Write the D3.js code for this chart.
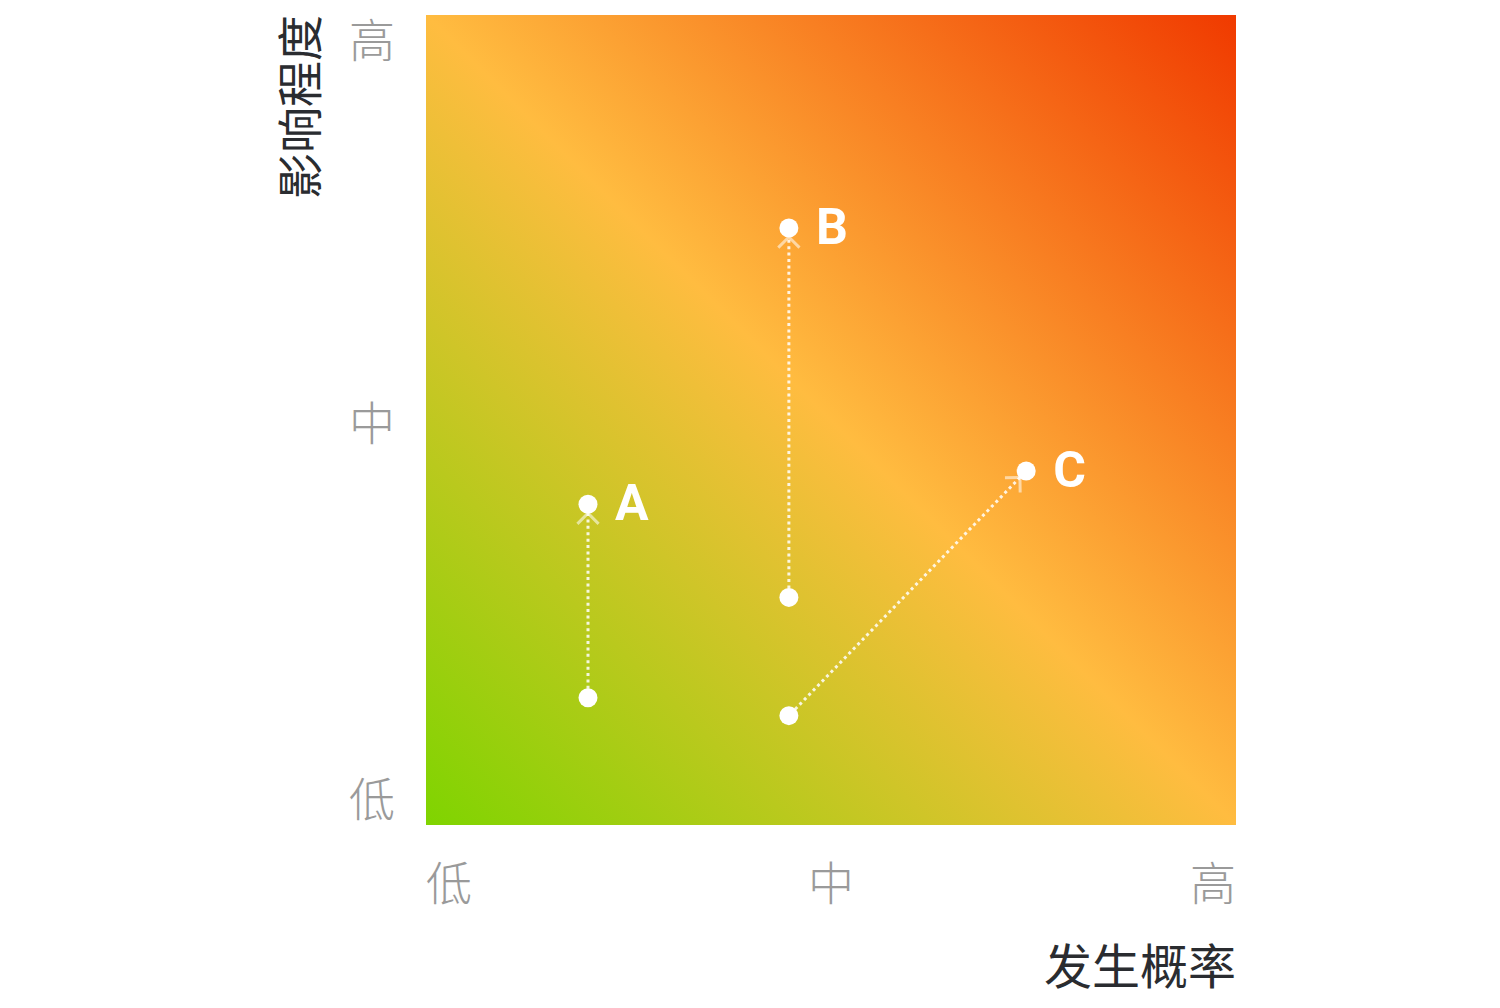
<!DOCTYPE html>
<html><head><meta charset="utf-8">
<script src="https://cdn.jsdelivr.net/npm/d3@7"></script>
<style>body{margin:0;background:#fff}svg{display:block}</style>
</head><body>
<svg id="c" width="1500" height="1008"></svg>
<script>
const tickValues = [0, 50, 100];
const tickLabels = ["低", "中", "高"];
const xTitle = "发生概率";
const yTitle = "影响程度";
const riskNames = ["A", "B", "C"];
const fromX = [20, 44.8, 44.8];
const fromY = [15.7, 28.1, 13.5];
const toX = [20, 44.8, 74.1];
const toY = [39.6, 73.7, 43.7];
const gradColors = ["#7fd400", "#ffbc40", "#f03a00"];

const svg = d3.select("#c");
const L = 426, R = 1236, T = 15, B = 825;
const x = d3.scaleLinear().domain([0, 100]).range([L, R]);
const y = d3.scaleLinear().domain([0, 100]).range([B, T]);

const defs = svg.append("defs");
const g = defs.append("linearGradient").attr("id", "bg")
  .attr("gradientUnits", "userSpaceOnUse")
  .attr("x1", L).attr("y1", B).attr("x2", R).attr("y2", T);
gradColors.forEach((c, i) => g.append("stop").attr("offset", i / (gradColors.length - 1)).attr("stop-color", c));

svg.append("rect").attr("x", x(0)).attr("y", y(100)).attr("width", x(100) - x(0)).attr("height", y(0) - y(100)).attr("fill", "url(#bg)");

const cjk = "'Noto Sans CJK SC', 'Noto Sans', sans-serif";
// x tick labels
svg.append("g").selectAll("text").data(tickValues).join("text")
  .attr("x", d => x(d)).attr("y", 880)
  .attr("text-anchor", (d, i) => i === 0 ? "start" : i === tickValues.length - 1 ? "end" : "middle")
  .attr("dominant-baseline", "central")
  .attr("font-family", cjk).attr("font-weight", 300).attr("font-size", 46).attr("fill", "#9a9a9a")
  .text((d, i) => tickLabels[i]);
// y tick labels
svg.append("g").selectAll("text").data(tickValues).join("text")
  .attr("x", 372)
  .attr("y", (d, i) => y(d) + (i === 0 ? -29 : i === tickValues.length - 1 ? 22 : 0))
  .attr("text-anchor", "middle").attr("dominant-baseline", "central")
  .attr("font-family", cjk).attr("font-weight", 300).attr("font-size", 46).attr("fill", "#9a9a9a")
  .text((d, i) => tickLabels[i]);
// titles
svg.append("text").attr("x", R).attr("y", 963).attr("text-anchor", "end").attr("dominant-baseline", "central")
  .attr("font-family", cjk).attr("font-size", 48).attr("fill", "#2a2c30").text(xTitle);
svg.append("text").attr("transform", `translate(297,${T}) rotate(-90)`).attr("text-anchor", "end").attr("dominant-baseline", "central")
  .attr("font-family", cjk).attr("font-size", 46).attr("fill", "#2a2c30").text(yTitle);

// arrows
const idx = d3.range(riskNames.length);
const ag = svg.append("g");
idx.forEach(i => {
  const x0 = x(fromX[i]), y0 = y(fromY[i]), x1 = x(toX[i]), y1 = y(toY[i]);
  const dx = x1 - x0, dy = y1 - y0, len = Math.hypot(dx, dy);
  const ux = dx / len, uy = dy / len;
  const tipX = x1 - ux * 9, tipY = y1 - uy * 9;
  ag.append("line").attr("x1", x0 + ux * 9).attr("y1", y0 + uy * 9).attr("x2", tipX).attr("y2", tipY)
    .attr("stroke", "#fff").attr("stroke-opacity", 0.85).attr("stroke-width", 3)
    .attr("stroke-dasharray", "3,3.4");
  const ang = Math.atan2(uy, ux);
  const hl = 15, ha = Math.PI / 4;
  const p = [[tipX - hl * Math.cos(ang - ha), tipY - hl * Math.sin(ang - ha)], [tipX, tipY], [tipX - hl * Math.cos(ang + ha), tipY - hl * Math.sin(ang + ha)]];
  ag.append("path").attr("d", d3.line()(p)).attr("fill", "none")
    .attr("stroke", "#fff").attr("stroke-opacity", 0.55).attr("stroke-width", 3);
});
// points
const pts = idx.flatMap(i => [[fromX[i], fromY[i]], [toX[i], toY[i]]]);
svg.append("g").selectAll("circle").data(pts).join("circle")
  .attr("cx", d => x(d[0])).attr("cy", d => y(d[1])).attr("r", 9.5).attr("fill", "#fff");
// labels
svg.append("g").selectAll("text").data(idx).join("text")
  .attr("x", i => x(toX[i]) + 27).attr("y", i => y(toY[i]) - 1)
  .attr("dominant-baseline", "central")
  .attr("font-family", "Roboto, sans-serif").attr("font-weight", 700).attr("font-size", 50).attr("fill", "#fff")
  .text(i => riskNames[i]);
</script>
</body></html>
